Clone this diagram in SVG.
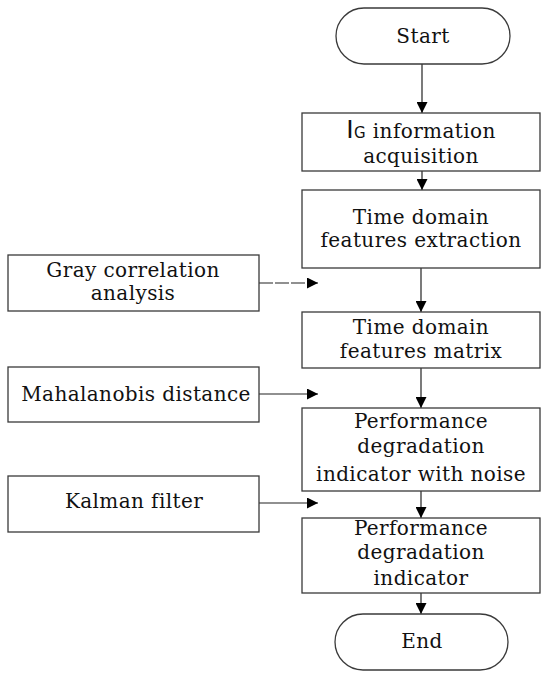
<svg xmlns="http://www.w3.org/2000/svg" width="550" height="678" viewBox="0 0 550 678">
<style>
.b{fill:#fff;stroke:#3a3a3a;stroke-width:1.3}
.t{font-family:'DejaVu Serif','Liberation Serif',serif;font-size:20px;letter-spacing:0.4px;fill:#111;text-anchor:middle}
.c{stroke:#222;stroke-width:1.2;fill:none}
</style>
<defs>
<marker id="ah" viewBox="0 0 10 10" refX="10" refY="5" markerWidth="11" markerHeight="11" markerUnits="userSpaceOnUse" orient="auto">
<path d="M0,0 L10,5 L0,10 Z" fill="#000"/>
</marker>
</defs>
<rect width="550" height="678" fill="#fff"/>
<g id="connectors">
<line class="c" x1="422" y1="64" x2="422" y2="113" marker-end="url(#ah)"/>
<line class="c" x1="422" y1="171" x2="422" y2="190" marker-end="url(#ah)"/>
<line class="c" x1="421" y1="268" x2="421" y2="312" marker-end="url(#ah)"/>
<line class="c" x1="421" y1="368" x2="421" y2="408" marker-end="url(#ah)"/>
<line class="c" x1="421" y1="491" x2="421" y2="518" marker-end="url(#ah)"/>
<line class="c" x1="421" y1="593" x2="421" y2="614" marker-end="url(#ah)"/>
<line class="c" x1="259" y1="283" x2="318" y2="283" stroke-dasharray="14,2" marker-end="url(#ah)"/>
<line class="c" x1="259" y1="394" x2="318" y2="394" marker-end="url(#ah)"/>
<line class="c" x1="259" y1="503" x2="318" y2="503" marker-end="url(#ah)"/>
</g>
<g id="start"><rect class="b" x="336" y="8" width="174" height="56" rx="28"/><text class="t" x="423" y="43">Start</text></g>
<g id="acq"><rect class="b" x="302" y="113" width="238" height="58"/><text class="t" x="421" y="138"><tspan style="font-family:'DejaVu Sans',sans-serif;font-size:25px">I</tspan><tspan style="font-family:'DejaVu Sans',sans-serif;font-size:15px">G</tspan> information</text><text class="t" x="421" y="163">acquisition</text></g>
<g id="extract"><rect class="b" x="302" y="190" width="238" height="78"/><text class="t" x="421" y="224">Time domain</text><text class="t" x="421" y="247">features extraction</text></g>
<g id="matrix"><rect class="b" x="302" y="312" width="238" height="56"/><text class="t" x="421" y="334">Time domain</text><text class="t" x="421" y="358">features matrix</text></g>
<g id="noise"><rect class="b" x="302" y="408" width="238" height="83"/><text class="t" x="421" y="428">Performance</text><text class="t" x="421" y="453">degradation</text><text class="t" x="421" y="481">indicator with noise</text></g>
<g id="indicator"><rect class="b" x="302" y="518" width="238" height="75"/><text class="t" x="421" y="535">Performance</text><text class="t" x="421" y="559">degradation</text><text class="t" x="421" y="585">indicator</text></g>
<g id="end"><rect class="b" x="335" y="614" width="173" height="56" rx="28"/><text class="t" x="422" y="648">End</text></g>
<g id="gray"><rect class="b" x="8" y="255" width="251" height="56"/><text class="t" x="133" y="277">Gray correlation</text><text class="t" x="133" y="300">analysis</text></g>
<g id="maha"><rect class="b" x="8" y="367" width="251" height="55"/><text class="t" x="136" y="401">Mahalanobis distance</text></g>
<g id="kalman"><rect class="b" x="8" y="476" width="251" height="56"/><text class="t" x="134" y="508">Kalman filter</text></g>
</svg>
